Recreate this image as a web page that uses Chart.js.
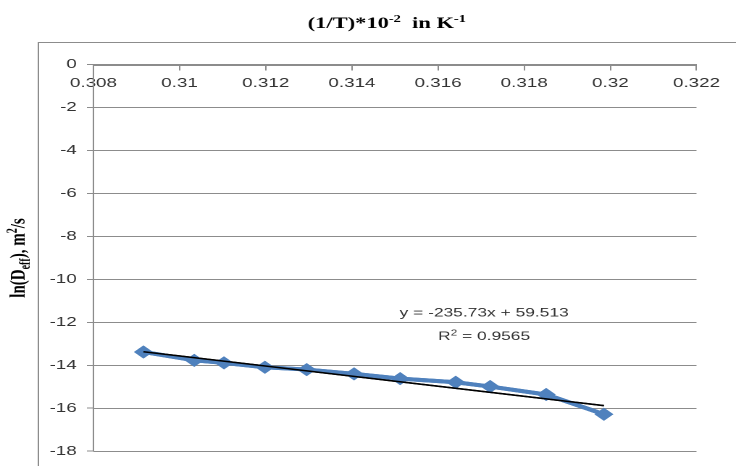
<!DOCTYPE html>
<html>
<head>
<meta charset="utf-8">
<script src="https://cdn.jsdelivr.net/npm/chart.js@4/dist/chart.umd.min.js"></script>
<style>
  html, body { margin: 0; padding: 0; background: #fff; }
  canvas { display: block; }
</style>
</head>
<body>
<!-- the original picture is stretched sideways, so the chart is drawn narrower and widened by css -->
<canvas id="grafica" width="508" height="466" style="width:736px;height:466px"></canvas>
<script>
// valores
const inversoT = [0.30916, 0.31034, 0.31103, 0.31198, 0.31295, 0.31405, 0.31512, 0.31641, 0.31721, 0.31851, 0.31985];
const lnDeff = [-13.38, -13.77, -13.89, -14.09, -14.20, -14.40, -14.62, -14.79, -14.99, -15.36, -16.28];

// linea de tendencia (extremos)
const tendenciaX = [0.30916, 0.31985];
const tendenciaY = [-13.37, -15.88];

const ticksX = [0.308, 0.310, 0.312, 0.314, 0.316, 0.318, 0.320, 0.322];
const ticksY = [-18, -16, -14, -12, -10, -8, -6, -4, -2, 0];

// textos con superindices / subindices
const tituloX = [['(1/T)*10', ''], ['-2', 'sup'], ['  in K', ''], ['-1', 'sup']];
const tituloY = [['ln(D', ''], ['eff', 'sub'], ['), m', ''], ['2', 'sup'], ['/s', '']];
const ecuacion = [['y = -235.73x + 59.513', '']];
const r2 = [['R', ''], ['2', 'sup'], [' = 0.9565', '']];

function dibujarTexto(ctx, partes, cx, y, size, family, weight, color) {
  const normal = `${weight} ${size}px ${family}`;
  const chica = `${weight} ${Math.round(size * 0.65)}px ${family}`;
  let total = 0;
  partes.forEach(p => {
    ctx.font = p[1] ? chica : normal;
    total += ctx.measureText(p[0]).width;
  });
  let x = cx - total / 2;
  ctx.fillStyle = color;
  ctx.textAlign = 'left';
  ctx.textBaseline = 'alphabetic';
  partes.forEach(p => {
    ctx.font = p[1] ? chica : normal;
    let dy = 0;
    if (p[1] === 'sup') dy = -size * 0.38;
    if (p[1] === 'sub') dy = size * 0.22;
    ctx.fillText(p[0], x, y + dy);
    x += ctx.measureText(p[0]).width;
  });
}

const textos = {
  id: 'textos',
  beforeDraw(chart) {
    const ctx = chart.ctx;
    ctx.save();
    ctx.strokeStyle = '#8c8c8c';
    ctx.lineWidth = 1;
    ctx.strokeRect(26.5, 42.5, chart.width + 20, chart.height);
    ctx.restore();
  },
  afterDraw(chart) {
    const ctx = chart.ctx;
    const area = chart.chartArea;
    const sx = chart.scales.x, sy = chart.scales.y;

    // cuadricula horizontal en las marcas del eje y (rectangulos de 1 px)
    ctx.save();
    ctx.setLineDash([]);
    ctx.globalAlpha = 1;
    ctx.globalCompositeOperation = 'source-over';
    ctx.fillStyle = '#8c8c8c';
    ticksY.forEach(v => {
      const y = Math.round(sy.getPixelForValue(v));
      ctx.fillRect(area.left, y, area.right - area.left, 1);
    });
    ctx.restore();

    // las series otra vez encima de la cuadricula
    [1, 0].forEach(i => {
      ctx.save();
      chart.getDatasetMeta(i).controller.draw();
      ctx.restore();
    });

    ctx.save();
    dibujarTexto(ctx, tituloX, 267, 28, 15.5, '"Liberation Serif"', 'bold', '#000');

    ctx.save();
    ctx.translate(17, 258);
    ctx.rotate(-Math.PI / 2);
    dibujarTexto(ctx, tituloY, 0, 0, 15, '"Liberation Serif"', 'bold', '#000');
    ctx.restore();

    const ex = sx.getPixelForValue(0.31707);
    const ey = sy.getPixelForValue(-11.74);
    dibujarTexto(ctx, ecuacion, ex, ey, 12, '"Liberation Sans"', 'normal', '#333');
    dibujarTexto(ctx, r2, ex, ey + 23.5, 12, '"Liberation Sans"', 'normal', '#333');
    ctx.restore();
  }
};

const ctx = document.getElementById('grafica').getContext('2d');
new Chart(ctx, {
  type: 'scatter',
  data: {
    datasets: [
      {
        label: 'Lineal',
        data: tendenciaX.map((x, i) => ({ x: x, y: tendenciaY[i] })),
        showLine: true,
        borderColor: '#000',
        borderWidth: 1.5,
        pointRadius: 0
      },
      {
        label: 'ln(Deff)',
        data: inversoT.map((x, i) => ({ x: x, y: lnDeff[i] })),
        showLine: true,
        borderColor: '#4F81BD',
        backgroundColor: '#4F81BD',
        borderWidth: 4,
        pointStyle: 'rectRot',
        pointRadius: 6.5,
        pointBorderWidth: 0
      }
    ]
  },
  options: {
    responsive: false,
    animation: false,
    devicePixelRatio: 2,
    layout: { padding: { top: 64.5, right: 21, bottom: 12.2, left: 0 } },
    plugins: {
      legend: { display: false },
      tooltip: { enabled: false },
      title: { display: false }
    },
    scales: {
      x: {
        type: 'linear',
        position: 'top',
        min: 0.308,
        max: 0.322,
        afterBuildTicks: s => { s.ticks = ticksX.map(v => ({ value: v })); },
        afterFit: s => { s.height = 0; },
        ticks: {
          callback: v => String(+v.toFixed(3)),
          color: '#333',
          font: { family: 'Liberation Sans', size: 13 },
          mirror: true,
          padding: 11,
          maxRotation: 0,
          autoSkip: false
        },
        grid: { drawOnChartArea: false, tickLength: -6, color: '#8c8c8c' },
        border: { color: '#8c8c8c' }
      },
      y: {
        type: 'linear',
        position: 'left',
        min: -18,
        max: 0,
        afterBuildTicks: s => { s.ticks = ticksY.map(v => ({ value: v })); },
        afterFit: s => { s.width = 64.5; },
        ticks: {
          callback: v => String(v),
          color: '#333',
          font: { family: 'Liberation Sans', size: 13 },
          padding: 7
        },
        grid: { drawOnChartArea: false, color: '#8c8c8c', lineWidth: 1, tickLength: 4.5 },
        border: { color: '#8c8c8c' }
      }
    }
  },
  plugins: [textos]
});
</script>
</body>
</html>
